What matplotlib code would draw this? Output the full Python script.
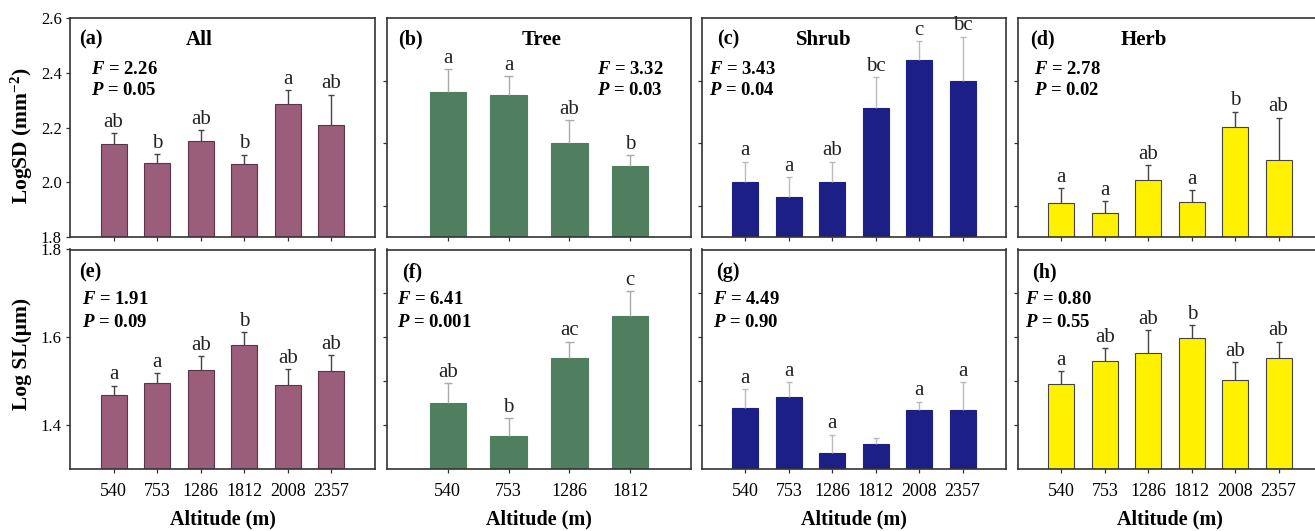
import numpy as np
import matplotlib.pyplot as plt

plt.rcParams['font.family'] = ['Liberation Serif', 'DejaVu Serif']
plt.rcParams['mathtext.fontset'] = 'custom'
plt.rcParams['mathtext.it'] = 'Liberation Serif:italic:bold'
plt.rcParams['mathtext.rm'] = 'Liberation Serif:bold'
plt.rcParams['mathtext.bf'] = 'Liberation Serif:bold'

alt6 = ['540', '753', '1286', '1812', '2008', '2357']
alt4 = ['540', '753', '1286', '1812']

# LogSD (top row)
sd_all = [2.140, 2.069, 2.151, 2.067, 2.287, 2.209]
sd_all_err = [0.040, 0.033, 0.039, 0.033, 0.050, 0.111]
sd_all_let = ['ab', 'b', 'ab', 'b', 'a', 'ab']

sd_tree = [2.364, 2.355, 2.200, 2.128]
sd_tree_err = [0.073, 0.059, 0.074, 0.034]
sd_tree_let = ['a', 'a', 'ab', 'b']

sd_shrub = [2.077, 2.029, 2.077, 2.313, 2.467, 2.400]
sd_shrub_err = [0.064, 0.062, 0.064, 0.097, 0.058, 0.140]
sd_shrub_let = ['a', 'a', 'ab', 'bc', 'c', 'bc']

sd_herb = [2.009, 1.978, 2.081, 2.011, 2.252, 2.146]
sd_herb_err = [0.047, 0.036, 0.049, 0.039, 0.049, 0.135]
sd_herb_let = ['a', 'a', 'ab', 'a', 'b', 'ab']

# Log SL (bottom row)
sl_all = [1.467, 1.495, 1.526, 1.582, 1.491, 1.523]
sl_all_err = [0.022, 0.023, 0.030, 0.029, 0.036, 0.036]
sl_all_let = ['a', 'a', 'ab', 'b', 'ab', 'ab']

sl_tree = [1.451, 1.375, 1.552, 1.648]
sl_tree_err = [0.044, 0.040, 0.038, 0.057]
sl_tree_let = ['ab', 'b', 'ac', 'c']

sl_shrub = [1.439, 1.464, 1.335, 1.357, 1.435, 1.435]
sl_shrub_err = [0.042, 0.034, 0.043, 0.012, 0.018, 0.063]
sl_shrub_let = ['a', 'a', 'a', '', 'a', 'a']

sl_herb = [1.493, 1.546, 1.565, 1.597, 1.502, 1.552]
sl_herb_err = [0.029, 0.029, 0.051, 0.031, 0.041, 0.038]
sl_herb_let = ['a', 'ab', 'ab', 'b', 'ab', 'ab']

stats_sd = [('2.26', '0.05'), ('3.32', '0.03'), ('3.43', '0.04'), ('2.78', '0.02')]
stats_sl = [('1.91', '0.09'), ('6.41', '0.001'), ('4.49', '0.90'), ('0.80', '0.55')]
groups = ['All', 'Tree', 'Shrub', 'Herb']

colors = ['#9B5E7A', '#4F7F5F', '#1C1F86', '#FFF100']
edges = ['#5a3448', '#4F7F5F', '#1C1F86', '#444444']
errc = ['#444444', '#aaaaaa', '#bbbbbb', '#444444']

W, H = 1315, 531
fig = plt.figure(figsize=(W / 100, H / 100), dpi=100)

lefts = [70, 387, 702, 1018]
widths = [305, 304, 304, 304]


def px_axes(left, top, w, h):
    return fig.add_axes([left / W, 1 - (top + h) / H, w / W, h / H])


def bars(ax, vals, err, lets, i, labels):
    x = np.arange(len(vals))
    vals = np.array(vals)
    err = np.array(err)
    y0 = ax.get_ylim()[0]
    ax.bar(x, vals - y0, bottom=y0, width=0.6,
           color=colors[i], edgecolor=edges[i], linewidth=0.8, zorder=2)
    ax.vlines(x, vals, vals + err, color=errc[i], lw=1.0, zorder=3)
    ax.hlines(vals + err, x - 0.07, x + 0.07, color=errc[i], lw=1.0, zorder=3)
    for xi, v, e, l in zip(x, vals, err, lets):
        ax.annotate(l, (xi, v + e), xytext=(0, 1), textcoords='offset points',
                    ha='center', va='bottom', fontsize=15, color='#222222')
    ax.set_xlim(-1, len(vals))
    ax.set_xticks(x)
    if labels:
        ax.set_xticklabels(labels, fontsize=13)
        ax.set_xlabel('Altitude (m)', fontsize=14.5, fontweight='bold', labelpad=7)
    else:
        ax.set_xticklabels([])


def style(ax):
    for s in ax.spines.values():
        s.set_color('#333333')
        s.set_linewidth(1.2)
    ax.tick_params(direction='out', length=3, width=0.9, color='#333333')
    ax.tick_params(axis='x', pad=7)
    ax.tick_params(axis='y', labelsize=12, pad=3)


top_data = [(sd_all, sd_all_err, sd_all_let), (sd_tree, sd_tree_err, sd_tree_let),
            (sd_shrub, sd_shrub_err, sd_shrub_let), (sd_herb, sd_herb_err, sd_herb_let)]
bot_data = [(sl_all, sl_all_err, sl_all_let), (sl_tree, sl_tree_err, sl_tree_let),
            (sl_shrub, sl_shrub_err, sl_shrub_let), (sl_herb, sl_herb_err, sl_herb_let)]

# text positions in axes fractions
tag_x = [0.03, 0.036, 0.049, 0.039]
title_x = [0.423, 0.51, 0.40, 0.414]
fp_x_top = [0.069, 0.69, 0.023, 0.053]
fp_y_top = [(0.763, 0.671), (0.763, 0.671), (0.763, 0.671), (0.763, 0.668)]
tag_x_bot = [0.03, 0.049, 0.046, 0.046]
fp_x_bot = [0.039, 0.033, 0.036, 0.023]

for i in range(4):
    # top row
    ax = px_axes(lefts[i], 18, widths[i], 219)
    if i == 0:
        ax.set_ylim(1.8, 2.6)
        ax.set_yticks([1.8, 2.0, 2.2, 2.4, 2.6])
        ax.set_yticklabels(['1.8', '2.0', '2.2', '2.4', '2.6'])
    else:
        ax.set_ylim(1.9, 2.6)
        ax.set_yticks([2.0, 2.2, 2.4])
        ax.set_yticklabels([])
    vals, err, lets = top_data[i]
    bars(ax, vals, err, lets, i, None)
    style(ax)
    ax.text(tag_x[i], 0.90, '(' + 'abcd'[i] + ')', transform=ax.transAxes,
            fontsize=14.5, fontweight='bold', va='center', ha='left')
    ax.text(title_x[i], 0.90, groups[i], transform=ax.transAxes,
            fontsize=15, fontweight='bold', va='center', ha='center')
    f, p = stats_sd[i]
    ax.text(fp_x_top[i], fp_y_top[i][0], '$F$ = ' + f, transform=ax.transAxes,
            fontsize=13.5, fontweight='bold', va='center', ha='left')
    ax.text(fp_x_top[i], fp_y_top[i][1], '$P$ = ' + p, transform=ax.transAxes,
            fontsize=13.5, fontweight='bold', va='center', ha='left')

    # bottom row
    ax = px_axes(lefts[i], 249.5, widths[i], 219.2)
    ax.set_ylim(1.3, 1.8)
    if i == 0:
        ax.set_yticks([1.4, 1.6, 1.8])
        ax.set_yticklabels(['1.4', '1.6', '1.8'])
    else:
        ax.set_yticks([1.4, 1.5, 1.6, 1.7])
        ax.set_yticklabels([])
    vals, err, lets = bot_data[i]
    bars(ax, vals, err, lets, i, alt4 if i == 1 else alt6)
    style(ax)
    ax.text(tag_x_bot[i], 0.897, '(' + 'efgh'[i] + ')', transform=ax.transAxes,
            fontsize=14.5, fontweight='bold', va='center', ha='left')
    f, p = stats_sl[i]
    ax.text(fp_x_bot[i], 0.770, '$F$ = ' + f, transform=ax.transAxes,
            fontsize=13.5, fontweight='bold', va='center', ha='left')
    ax.text(fp_x_bot[i], 0.669, '$P$ = ' + p, transform=ax.transAxes,
            fontsize=13.5, fontweight='bold', va='center', ha='left')

fig.text(22 / W, 1 - 136 / H, 'LogSD (mm$^{-2}$)', rotation=90, fontsize=15.5,
         fontweight='bold', ha='center', va='center')
fig.text(22 / W, 1 - 354 / H, 'Log SL(μm)', rotation=90, fontsize=15.5,
         fontweight='bold', ha='center', va='center')

fig.savefig('out.png', dpi=100)
